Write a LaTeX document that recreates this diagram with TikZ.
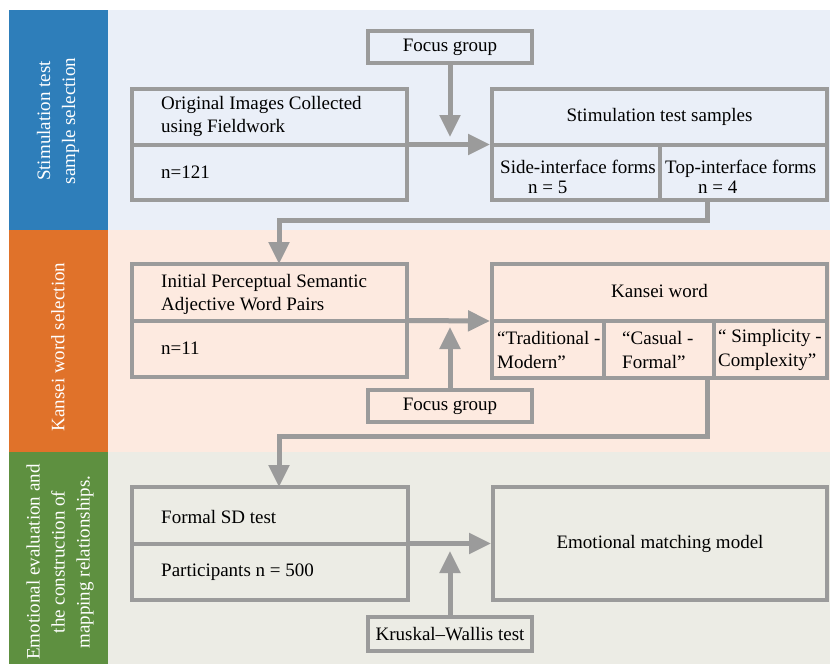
\documentclass[tikz,border=0pt]{standalone}
\usepackage{fontspec}
\setmainfont{Liberation Serif}
\usetikzlibrary{arrows.meta,calc}
\definecolor{bandblue}{RGB}{46,126,186}
\definecolor{bandorange}{RGB}{224,114,42}
\definecolor{bandgreen}{RGB}{94,144,64}
\definecolor{panblue}{RGB}{234,239,248}
\definecolor{panpeach}{RGB}{253,234,224}
\definecolor{pangrey}{RGB}{236,236,229}
\definecolor{linegray}{RGB}{155,155,155}
\tikzset{
  box/.style={draw=linegray, line width=4pt, rectangle, inner sep=0pt},
  divline/.style={draw=linegray, line width=4pt},
  conn/.style={draw=linegray, line width=5pt, line join=miter},
  arr/.style={conn, -{Triangle[length=22pt,width=20pt]}},
  txt/.style={font=\fontsize{19}{23}\selectfont, inner sep=0pt, align=left},
  ctxt/.style={font=\fontsize{19}{23}\selectfont, inner sep=0pt, align=center},
  bandtxt/.style={font=\fontsize{19}{25}\selectfont, text=white, rotate=90, align=center, inner sep=0pt}
}
\begin{document}
\begin{tikzpicture}[x=1pt,y=-1pt]
\useasboundingbox (0,0) rectangle (830,664);
% panels
\fill[panblue] (108,10) rectangle (830,230);
\fill[panpeach] (108,230) rectangle (830,452);
\fill[pangrey] (108,452) rectangle (830,664);
\fill[bandblue] (9,10) rectangle (108,230);
\fill[bandorange] (9,230) rectangle (108,452);
\fill[bandgreen] (9,452) rectangle (108,664);
\node[bandtxt] (b1) at (58,121) {Stimulation test\\sample selection};
\node[bandtxt] (b2) at (58,347) {Kansei word selection};
\node[bandtxt] (b3) at (60,562) {Emotional evaluation and\\the construction of\\mapping relationships.};

% section 1
\node[box, minimum width=164pt, minimum height=32pt] (fg1) at (450,47) {};
\node[ctxt] (fg1t) at (fg1.center) {Focus group};
\node[box, minimum width=275pt, minimum height=111pt] (orig) at (269.5,144.5) {};
\draw[divline] (orig.west) -- (orig.east);
\node[txt, anchor=west] (origt) at (161,116.5) {Original Images Collected\\using Fieldwork};
\node[txt, anchor=west] (orign) at (161,172) {n=121};
\node[box, minimum width=335pt, minimum height=111pt] (stim) at (659.5,144.5) {};
\draw[divline] (stim.west) -- (stim.east);
\coordinate (sv) at (660,144.5);
\draw[divline] (sv) -- (stim.south -| sv);
\node[ctxt] (stimt) at (659.5,117) {Stimulation test samples};
\node[txt, anchor=west, font=\fontsize{19}{20}\selectfont] (side) at (500,177) {Side-interface forms\\\hspace*{28pt}n = 5};
\node[txt, anchor=west, font=\fontsize{19}{20}\selectfont] (top) at (665,177) {Top-interface forms\\\hspace*{33pt}n = 4};
\coordinate (j1) at (450,137);
\draw[arr] (fg1.south) -- (j1);
\draw[arr] (orig.east) -- (stim.west);
\coordinate (c1) at (707,220);
\coordinate (c2) at (279,220);
\draw[arr] (stim.south -| c1) -- (c1) -- (c2) -- (279,264);

% section 2
\node[box, minimum width=275pt, minimum height=113pt] (init) at (269.5,320.5) {};
\draw[divline] (init.west) -- (init.east);
\node[txt, anchor=west] (initt) at (161,294) {Initial Perceptual Semantic\\Adjective Word Pairs};
\node[txt, anchor=west] (initn) at (161,348) {n=11};
\node[box, minimum width=335pt, minimum height=114pt] (kan) at (659.5,321) {};
\draw[divline] (kan.west) -- (kan.east);
\coordinate (kv1) at (604,321);
\coordinate (kv2) at (714,321);
\draw[divline] (kv1) -- (kan.south -| kv1);
\draw[divline] (kv2) -- (kan.south -| kv2);
\node[ctxt] (kant) at (659.5,291) {Kansei word};
\node[txt, anchor=west, font=\fontsize{19}{24}\selectfont] (k1) at (497,350) {“Traditional -\\Modern”};
\node[txt, anchor=west, font=\fontsize{19}{24}\selectfont] (k2) at (622,350) {“Casual -\\Formal”};
\node[txt, anchor=west, font=\fontsize{19}{24}\selectfont] (k3) at (718,350) {“ Simplicity -\\Complexity”};
\node[box, minimum width=164pt, minimum height=32pt] (fg2) at (450,406) {};
\node[ctxt] (fg2t) at (fg2.center) {Focus group};
\coordinate (j2) at (450,327);
\draw[arr] (init.east) -- (kan.west);
\draw[arr] (fg2.north) -- (j2);
\coordinate (c3) at (707,436);
\coordinate (c4) at (279,436);
\draw[arr] (kan.south -| c3) -- (c3) -- (c4) -- (279,487);

% section 3
\node[box, minimum width=276pt, minimum height=113pt] (formal) at (270,543.5) {};
\draw[divline] (formal.west) -- (formal.east);
\node[txt, anchor=west] (formalt) at (161,517) {Formal SD test};
\node[txt, anchor=west] (formaln) at (161,572) {Participants n = 500};
\node[box, minimum width=334pt, minimum height=113pt] (emo) at (660,543.5) {};
\node[ctxt] (emot) at (emo.center) {Emotional matching model};
\node[box, minimum width=164pt, minimum height=34pt] (kw) at (450,634) {};
\node[ctxt] (kwt) at (kw.center) {Kruskal–Wallis test};
\coordinate (j3) at (450,551);
\draw[arr] (formal.east) -- (emo.west);
\draw[arr] (kw.north) -- (j3);
\end{tikzpicture}
\end{document}
